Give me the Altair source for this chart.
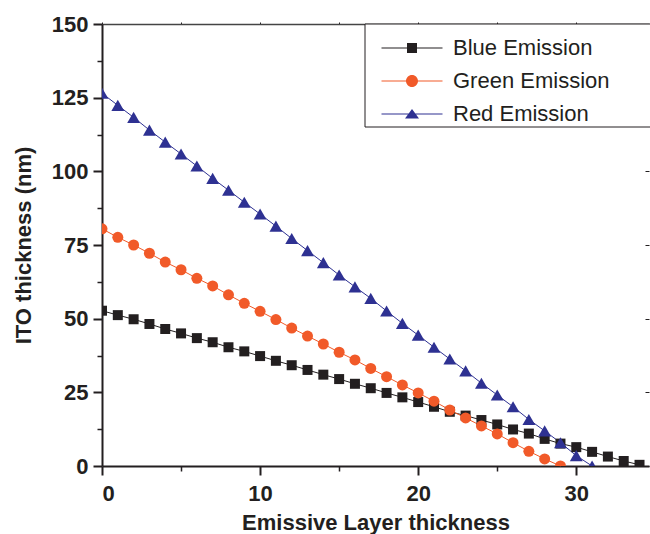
import altair as alt
import pandas as pd

series_names = ["Blue Emission", "Green Emission", "Red Emission"]
series_colors = ["#231f20", "#f15a29", "#2e3192"]

blue_x = list(range(0, 35))
blue_y = [52.7, 51.2, 49.8, 48.2, 46.5, 45.0, 43.4, 42.0, 40.3, 38.9,
          37.3, 35.7, 34.2, 32.6, 31.0, 29.5, 27.9, 26.4, 24.8, 23.3,
          21.7, 20.1, 18.4, 17.1, 15.6, 14.1, 12.4, 11.0, 9.2, 7.6,
          6.4, 4.8, 3.2, 1.7, 0.4]

green_x = list(range(0, 30))
green_y = [80.5, 77.6, 75.0, 72.2, 69.2, 66.6, 63.7, 61.1, 58.1, 55.2,
           52.5, 49.7, 46.8, 44.1, 41.4, 38.6, 36.0, 33.1, 30.3, 27.5,
           24.8, 22.0, 19.0, 16.3, 13.6, 10.9, 7.9, 5.0, 2.4, 0.0]

red_x = list(range(0, 32))
red_y = [126.5, 122.4, 118.3, 114.0, 109.9, 105.9, 101.8, 97.6, 93.6, 89.5,
         85.5, 81.4, 77.2, 73.1, 69.0, 64.8, 60.8, 56.9, 52.6, 48.4,
         44.4, 40.3, 36.3, 32.3, 28.1, 24.1, 20.1, 15.8, 11.9, 7.9,
         3.5, 0.0]

x_ticks_major = [0, 10, 20, 30]
x_ticks_minor = [5, 15, 25]
x_ticks_top = [0, 5, 10, 15, 20, 25, 30]
y_ticks_major = [0, 25, 50, 75, 100, 125, 150]
y_ticks_minor = [12.5, 37.5, 62.5, 87.5, 112.5, 137.5]

rows = []
for name, xs, ys in zip(series_names, [blue_x, green_x, red_x], [blue_y, green_y, red_y]):
    for xv, yv in zip(xs, ys):
        rows.append({"x": xv, "y": yv, "series": name})
df = pd.DataFrame(rows)

FONT = "Liberation Sans"
INK = "#231f20"

xsc = alt.Scale(domain=[0, 34.6], nice=False, zero=False)
ysc = alt.Scale(domain=[0, 150], nice=False, zero=False)
color_scale = alt.Scale(domain=series_names, range=series_colors)

LINE = "M-3.05,-0.05H3.05V0.05H-3.05Z "
legend_paths = [
    LINE + "M-0.5,-0.5H0.5V0.5H-0.5Z",
    LINE + "M0.6,0A0.6,0.6,0,1,1,-0.6,0A0.6,0.6,0,1,1,0.6,0Z",
    LINE + "M0,-0.5L0.7,0.45L-0.7,0.45Z",
]

x_major = alt.Axis(orient="bottom", values=x_ticks_major, format="d", tickSize=9, tickWidth=2,
                   domainWidth=2, domainColor=INK, tickColor=INK, labelPadding=8, grid=False,
                   title="Emissive Layer thickness", titlePadding=8)
y_major = alt.Axis(orient="left", values=y_ticks_major, format="d", tickSize=9, tickWidth=2,
                   domainWidth=2, domainColor=INK, tickColor=INK, labelPadding=5, grid=False,
                   title="ITO thickness (nm)", titlePadding=16)
x_minor = alt.Axis(orient="bottom", values=x_ticks_minor, labels=False, domain=False, tickSize=5,
                   tickWidth=1.5, tickColor=INK, grid=False, title=None)
y_minor = alt.Axis(orient="left", values=y_ticks_minor, labels=False, domain=False, tickSize=5,
                   tickWidth=1.5, tickColor=INK, grid=False, title=None)
x_top = alt.Axis(orient="top", values=x_ticks_top, labels=False, domain=True, domainWidth=1.5,
                 domainColor="#444444", tickSize=2, tickWidth=1, tickColor=INK, grid=False, title=None)
y_right = alt.Axis(orient="right", values=y_ticks_major, labels=False, domain=False, tickSize=4,
                   tickWidth=1, tickColor=INK, offset=-4, grid=False, title=None)

base = alt.Chart(df)

box = alt.Chart(pd.DataFrame({"k": [0]})).mark_rect(fill="white", stroke=INK, strokeWidth=1).encode(
    x=alt.value(263), x2=alt.value(620), y=alt.value(0), y2=alt.value(103)
)

shapes = ["square", "circle", "triangle-up"]
sizes = [100, 121, 165]
line_layers = []
point_layers = []
for i, (name, shp, col, sz) in enumerate(zip(series_names, shapes, series_colors, sizes)):
    sub = base.transform_filter(alt.datum.series == name)
    line_layers.append(
        sub.mark_line(strokeWidth=1, color=col).encode(
            x=alt.X("x:Q", scale=xsc, axis=x_major if i == 0 else None),
            y=alt.Y("y:Q", scale=ysc, axis=y_major if i == 0 else None),
        )
    )
    point_layers.append(
        sub.mark_point(shape=shp, filled=True, color=col, size=sz, opacity=1, clip=True).encode(
            x=alt.X("x:Q", scale=xsc, axis=x_minor if i == 0 else None),
            y=alt.Y("y:Q", scale=ysc, axis=y_minor if i == 0 else None),
        )
    )

leg = alt.Legend(title=None, orient="none", legendX=299, legendY=13, symbolSize=400,
                 symbolStrokeWidth=0, labelFont=FONT, labelFontSize=22, labelColor=INK,
                 labelFontWeight="normal", labelOffset=30, rowPadding=11, padding=0,
                 labelLimit=400)

# legend-only layer: its points are pushed outside the clipped plot area
legend_layer = base.transform_calculate(xo="datum.x + 1000").mark_point(
    filled=True, opacity=1, clip=True
).encode(
    x=alt.X("xo:Q", scale=xsc, axis=x_top),
    y=alt.Y("y:Q", scale=ysc, axis=y_right),
    color=alt.Color("series:N", scale=color_scale, legend=leg),
    shape=alt.Shape("series:N", scale=alt.Scale(domain=series_names, range=legend_paths), legend=leg),
)

chart = (
    alt.layer(box, *line_layers, *point_layers, legend_layer)
    .resolve_axis(x="independent", y="independent")
    .properties(width=547, height=442, autosize="none",
                padding={"left": 102, "top": 24, "right": 1, "bottom": 68})
    .configure_view(stroke=None)
    .configure_axis(labelFont=FONT, labelFontSize=22, labelFontWeight="bold", labelColor=INK,
                    titleFont=FONT, titleFontSize=22, titleFontWeight="bold", titleColor=INK)
)

chart.save("out.html", embed_options={"renderer": "svg", "actions": False})
